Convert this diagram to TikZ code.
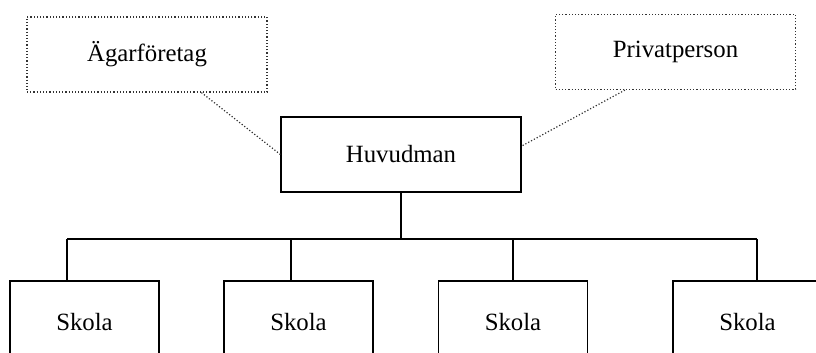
\documentclass[tikz,border=0pt]{standalone}
\usepackage{fontspec}
\setmainfont{Liberation Serif}
\usetikzlibrary{positioning}

\begin{document}
\begin{tikzpicture}[x=0.5pt,y=-0.5pt,line width=0.6pt]
\tikzset{OwnerStyle/.style = {draw=black!80,densely dotted,rectangle,
                              minimum width=120pt,minimum height=37.5pt,
                              font=\fontsize{12.4}{15}\selectfont},
         UnitStyle/.style  = {draw,rectangle,
                              minimum width=120pt,minimum height=37.5pt,
                              font=\fontsize{12.4}{15}\selectfont},
         SchoolStyle/.style = {UnitStyle,minimum width=74.5pt,minimum height=41pt}}
\useasboundingbox (0,0) rectangle (816,353);
\clip (0,0) rectangle (816,353);

\node[OwnerStyle] (agar) at (147,54.5) {Ägarföretag};
\node[OwnerStyle] (priv) at (675.5,52) {Privatperson};
\node[UnitStyle]  (huvud) at (401,154.5) {Huvudman};

\draw[densely dotted,black!80] (agar.-35) -- (huvud.west);
\draw[densely dotted,black!80] (priv.-143) -- (huvud.4);

% skolorna under huvudmannen
\foreach \i/\x/\d in {1/84.5/67,2/298.5/291,3/513/513,4/747.5/757}{
  \node[SchoolStyle] (skola\i) at (\x,322) {Skola};
  \coordinate (drop\i) at (\d,239);
  \draw (drop\i) -- (drop\i |- skola\i.north);
}
\coordinate (bus) at (huvud.south |- drop1);
\draw (huvud.south) -- (bus);
\draw (drop1) -- (drop4);
\end{tikzpicture}
\end{document}
